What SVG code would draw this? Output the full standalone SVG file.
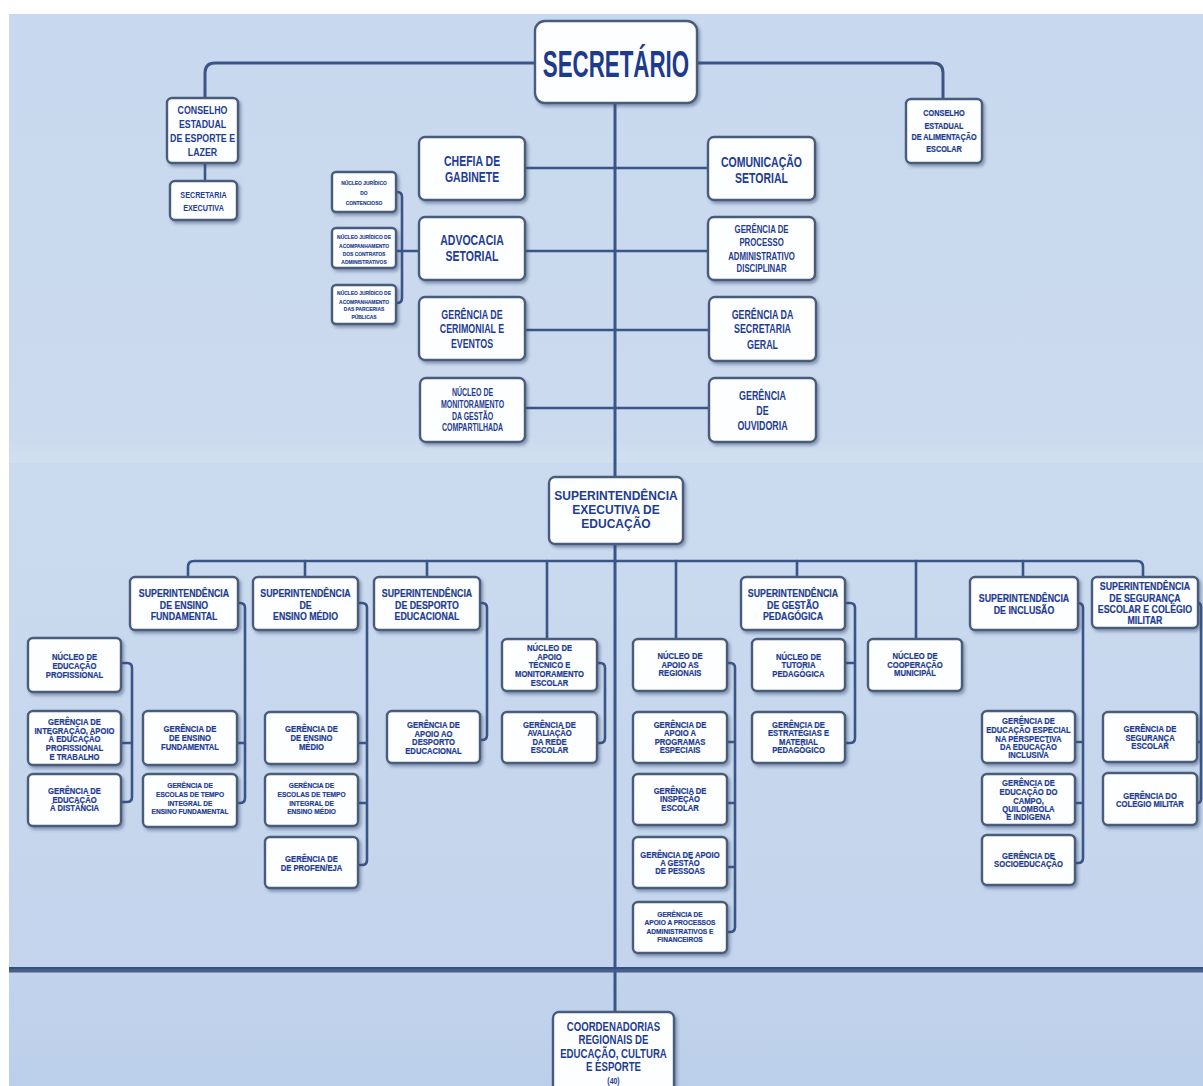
<svg xmlns="http://www.w3.org/2000/svg" width="1203" height="1086" viewBox="0 0 1203 1086">
<defs>
  <filter id="sh" x="-10%" y="-10%" width="130%" height="140%">
    <feDropShadow dx="2" dy="2.5" stdDeviation="1.6" flood-color="#34466a" flood-opacity="0.45"/>
  </filter>
  <linearGradient id="bgTop" x1="0" y1="0" x2="0" y2="1">
    <stop offset="0" stop-color="#c8d8ee"/>
    <stop offset="0.94" stop-color="#cbdaee"/>
    <stop offset="1" stop-color="#d2dff1"/>
  </linearGradient>
  <linearGradient id="bgMid" x1="0" y1="0" x2="0" y2="1">
    <stop offset="0" stop-color="#cbdbef"/>
    <stop offset="1" stop-color="#c3d4ec"/>
  </linearGradient>
  <linearGradient id="bgBot" x1="0" y1="0" x2="0" y2="1">
    <stop offset="0" stop-color="#c2d4ec"/>
    <stop offset="1" stop-color="#bccfea"/>
  </linearGradient>
</defs>
<style>
  .box{fill:#fdfeff;stroke:#4a5c7c;stroke-width:2.4;filter:url(#sh)}
  .ln{fill:none;stroke:#3a5688;stroke-width:2.6;stroke-linecap:round;stroke-linejoin:round}
  text{font-family:"Liberation Sans",Arial,sans-serif;font-weight:bold;fill:#1d3c92;text-anchor:middle;transform-box:fill-box;transform-origin:center}
  .big{font-size:36px;transform:scaleX(.62);fill:#1d3a8c}
  .l{font-size:15px;transform:scaleX(.7)}
  .m{font-size:12.5px;transform:scaleX(.71)}
  .m2{font-size:11.5px;transform:scaleX(.68)}
  .s10{font-size:10px;transform:scaleX(.7)}
  .cons{font-size:11px;transform:scaleX(.8)}
  .cons2{font-size:8.5px;transform:scaleX(.86);stroke:#1d3c92;stroke-width:.2px}
  .sx{font-size:9.5px;transform:scaleX(.76)}
  .nj{font-size:5.8px;transform:scaleX(.85);stroke:#1d3c92;stroke-width:.15px}
  .sx2{font-size:12.5px;transform:scaleX(.96)}
  .sup{font-size:10px;transform:scaleX(.88);stroke:#1d3c92;stroke-width:.2px}
  .g{font-size:8.5px;transform:scaleX(.9);stroke:#1d3c92;stroke-width:.2px}
  .gs{font-size:7.5px;transform:scaleX(.88);stroke:#1d3c92;stroke-width:.2px}
  .co{font-size:12.5px;transform:scaleX(.77)}
</style>

<!-- backdrop panels -->
<rect x="0" y="0" width="1203" height="1086" fill="#ffffff"/>
<rect x="9" y="14" width="1194" height="449" fill="url(#bgTop)"/>
<rect x="9" y="463" width="1194" height="505" fill="url(#bgMid)"/>
<rect x="9" y="968" width="1194" height="118" fill="url(#bgBot)"/>

<!-- connectors -->
<g id="connectors">
  <path class="ln" style="stroke-width:3" d="M205,98 V73 Q205,63 215,63 H933 Q943,63 943,73 V99"/>
  <path class="ln" d="M205,163 V181"/>
  <path class="ln" style="stroke-width:3" d="M615,103 V477"/>
  <path class="ln" d="M525,168 H708 M525,251 H708 M525,330 H709 M525,408 H709"/>
  <path class="ln" d="M396,192 H397 Q402,192 402,197 V298 Q402,303 397,303 H396 M396,251 H419"/>

  <path class="ln" style="stroke-width:3" d="M615,544 V1012"/>
  <path class="ln" d="M188,577 V567 Q188,561 194,561 H1137 Q1143,561 1143,567 V577"/>
  <path class="ln" d="M305,561 V577 M427,561 V577 M547,561 V639 M676,561 V639 M797,561 V577 M916,561 V639 M1023,561 V577"/>

  <path class="ln" d="M238,603 H240 Q245,603 245,608 V798 Q245,803 240,803 H237 M237,743 H245"/>
  <path class="ln" d="M121,663 H127 Q132,663 132,668 V797 Q132,802 127,802 H121 M121,743 H132"/>
  <path class="ln" d="M358,603 H362 Q367,603 367,608 V860 Q367,865 362,865 H358 M358,743 H367 M358,803 H367"/>
  <path class="ln" d="M480,603 H482 Q487,603 487,608 V735 Q487,740 482,740 H480"/>
  <path class="ln" d="M597,663 H600 Q605,663 605,668 V738 Q605,743 600,743 H597"/>
  <path class="ln" d="M727,663 H730 Q735,663 735,668 V927 Q735,932 730,932 H727 M727,742 H735 M727,803 H735 M727,867 H735"/>
  <path class="ln" d="M845,603 H850 Q855,603 855,608 V738 Q855,743 850,743 H845 M845,663 H855"/>
  <path class="ln" d="M1078,603 Q1083,603 1083,608 V858 Q1083,863 1078,863 H1075 M1075,742 H1083 M1075,803 H1083"/>
  <path class="ln" d="M1198,603 Q1201,603 1201,607 V799 Q1201,803 1197,803 M1197,742 H1201"/>

  <!-- regional divider -->
  <path d="M9,970 H1203" stroke="#4a5f86" stroke-width="5" fill="none"/>
  <path d="M9,968 H1203" stroke="#2f4f86" stroke-width="2" fill="none"/>
</g>

<!-- top level -->
<g id="secretario">
  <rect class="box" x="535" y="21" width="162" height="82" rx="10"/>
  <text class="big" x="616" y="77">SECRETÁRIO</text>
</g>
<g id="conselho-esporte">
  <rect class="box" x="167" y="98" width="71" height="65" rx="5"/>
  <text class="cons" x="202.5"><tspan x="202.5" y="114">CONSELHO</tspan><tspan x="202.5" y="128">ESTADUAL</tspan><tspan x="202.5" y="142">DE ESPORTE E</tspan><tspan x="202.5" y="156">LAZER</tspan></text>
</g>
<g id="secretaria-executiva">
  <rect class="box" x="170" y="181" width="67" height="39" rx="5"/>
  <text class="sx" x="203.5"><tspan x="203.5" y="198">SECRETARIA</tspan><tspan x="203.5" y="211">EXECUTIVA</tspan></text>
</g>
<g id="conselho-alimentacao">
  <rect class="box" x="906" y="99" width="76" height="64" rx="5"/>
  <text class="cons2" x="944"><tspan x="944" y="116">CONSELHO</tspan><tspan x="944" y="129">ESTADUAL</tspan><tspan x="944" y="140">DE ALIMENTAÇÃO</tspan><tspan x="944" y="152">ESCOLAR</tspan></text>
</g>

<g id="chefia-gabinete">
  <rect class="box" x="419" y="137" width="106" height="63" rx="6"/>
  <text class="l" x="472"><tspan x="472" y="166.5">CHEFIA DE</tspan><tspan x="472" y="182.5">GABINETE</tspan></text>
</g>
<g id="advocacia-setorial">
  <rect class="box" x="419" y="217" width="106" height="63" rx="6"/>
  <text class="l" x="472"><tspan x="472" y="245.5">ADVOCACIA</tspan><tspan x="472" y="261.5">SETORIAL</tspan></text>
</g>
<g id="cerimonial">
  <rect class="box" x="419" y="297" width="106" height="63" rx="6"/>
  <text class="m" x="472"><tspan x="472" y="319.5">GERÊNCIA DE</tspan><tspan x="472" y="333.5">CERIMONIAL E</tspan><tspan x="472" y="348.5">EVENTOS</tspan></text>
</g>
<g id="nucleo-monitoramento">
  <rect class="box" x="420" y="378" width="105" height="64" rx="6"/>
  <text class="s10" x="472.5"><tspan x="472.5" y="396.5">NÚCLEO DE</tspan><tspan x="472.5" y="408.5">MONITORAMENTO</tspan><tspan x="472.5" y="420.5">DA GESTÃO</tspan><tspan x="472.5" y="431.5">COMPARTILHADA</tspan></text>
</g>
<g id="comunicacao-setorial">
  <rect class="box" x="708" y="137" width="107" height="63" rx="6"/>
  <text class="l" x="761.5"><tspan x="761.5" y="167.5">COMUNICAÇÃO</tspan><tspan x="761.5" y="183.5">SETORIAL</tspan></text>
</g>
<g id="processo-disciplinar">
  <rect class="box" x="708" y="217" width="107" height="63" rx="6"/>
  <text class="m2" x="761.5"><tspan x="761.5" y="233">GERÊNCIA DE</tspan><tspan x="761.5" y="246">PROCESSO</tspan><tspan x="761.5" y="260">ADMINISTRATIVO</tspan><tspan x="761.5" y="272">DISCIPLINAR</tspan></text>
</g>
<g id="secretaria-geral">
  <rect class="box" x="709" y="297" width="107" height="64" rx="6"/>
  <text class="m" x="762.5"><tspan x="762.5" y="319.5">GERÊNCIA DA</tspan><tspan x="762.5" y="333.5">SECRETARIA</tspan><tspan x="762.5" y="349.5">GERAL</tspan></text>
</g>
<g id="ouvidoria">
  <rect class="box" x="709" y="378" width="107" height="64" rx="6"/>
  <text class="m" x="762.5"><tspan x="762.5" y="400.5">GERÊNCIA</tspan><tspan x="762.5" y="415.5">DE</tspan><tspan x="762.5" y="430.5">OUVIDORIA</tspan></text>
</g>

<g id="nj-contencioso">
  <rect class="box" x="332" y="172" width="64" height="40" rx="4"/>
  <text class="nj" x="364"><tspan x="364" y="185">NÚCLEO JURÍDICO</tspan><tspan x="364" y="195">DO</tspan><tspan x="364" y="205">CONTENCIOSO</tspan></text>
</g>
<g id="nj-contratos">
  <rect class="box" x="332" y="228" width="64" height="40" rx="4"/>
  <text class="nj" x="364"><tspan x="364" y="239">NÚCLEO JURÍDICO DE</tspan><tspan x="364" y="248">ACOMPANHAMENTO</tspan><tspan x="364" y="256">DOS  CONTRATOS</tspan><tspan x="364" y="264">ADMINISTRATIVOS</tspan></text>
</g>
<g id="nj-parcerias">
  <rect class="box" x="332" y="285" width="64" height="39" rx="4"/>
  <text class="nj" x="364"><tspan x="364" y="295">NÚCLEO  JURÍDICO DE</tspan><tspan x="364" y="304">ACOMPANHAMENTO</tspan><tspan x="364" y="311">DAS PARCERIAS</tspan><tspan x="364" y="319">PÚBLICAS</tspan></text>
</g>

<!-- education superintendency -->
<g id="sup-executiva">
  <rect class="box" x="549" y="477" width="134" height="67" rx="6"/>
  <text class="sx2" x="616"><tspan x="616" y="500.5">SUPERINTENDÊNCIA</tspan><tspan x="616" y="514.5">EXECUTIVA DE</tspan><tspan x="616" y="528.5">EDUCAÇÃO</tspan></text>
</g>
<g id="sup-fundamental">
  <rect class="box" x="130" y="577" width="108" height="53" rx="5"/>
  <text class="sup" x="184"><tspan x="184" y="597.5">SUPERINTENDÊNCIA</tspan><tspan x="184" y="609.5">DE ENSINO</tspan><tspan x="184" y="620.5">FUNDAMENTAL</tspan></text>
</g>
<g id="sup-medio">
  <rect class="box" x="253" y="577" width="105" height="53" rx="5"/>
  <text class="sup" x="305.5"><tspan x="305.5" y="597.5">SUPERINTENDÊNCIA</tspan><tspan x="305.5" y="609.5">DE</tspan><tspan x="305.5" y="620.5">ENSINO MÉDIO</tspan></text>
</g>
<g id="sup-desporto">
  <rect class="box" x="374" y="577" width="106" height="53" rx="5"/>
  <text class="sup" x="427"><tspan x="427" y="597.5">SUPERINTENDÊNCIA</tspan><tspan x="427" y="609.5">DE DESPORTO</tspan><tspan x="427" y="620.5">EDUCACIONAL</tspan></text>
</g>
<g id="sup-gestao">
  <rect class="box" x="741" y="577" width="104" height="53" rx="5"/>
  <text class="sup" x="793"><tspan x="793" y="597.5">SUPERINTENDÊNCIA</tspan><tspan x="793" y="609.5">DE GESTÃO</tspan><tspan x="793" y="620.5">PEDAGÓGICA</tspan></text>
</g>
<g id="sup-inclusao">
  <rect class="box" x="970" y="577" width="108" height="53" rx="5"/>
  <text class="sup" x="1024"><tspan x="1024" y="602.5">SUPERINTENDÊNCIA</tspan><tspan x="1024" y="614.5">DE INCLUSÃO</tspan></text>
</g>
<g id="sup-seguranca">
  <rect class="box" x="1092" y="577" width="106" height="51" rx="5"/>
  <text class="sup" x="1145"><tspan x="1145" y="590.5">SUPERINTENDÊNCIA</tspan><tspan x="1145" y="602.5">DE SEGURANÇA</tspan><tspan x="1145" y="613.5">ESCOLAR E COLÉGIO</tspan><tspan x="1145" y="624.5">MILITAR</tspan></text>
</g>

<!-- professional education -->
<g id="nucleo-ed-profissional">
  <rect class="box" x="28" y="638" width="93" height="54" rx="5"/>
  <text class="g" x="74.5"><tspan x="74.5" y="660">NÚCLEO DE</tspan><tspan x="74.5" y="669">EDUCAÇÃO</tspan><tspan x="74.5" y="678">PROFISSIONAL</tspan></text>
</g>
<g id="ger-integracao">
  <rect class="box" x="28" y="711" width="93" height="54" rx="5"/>
  <text class="g" x="74.5"><tspan x="74.5" y="725">GERÊNCIA DE</tspan><tspan x="74.5" y="734">INTEGRAÇÃO, APOIO</tspan><tspan x="74.5" y="742">À EDUCAÇÃO</tspan><tspan x="74.5" y="751">PROFISSIONAL</tspan><tspan x="74.5" y="760">E TRABALHO</tspan></text>
</g>
<g id="ger-distancia">
  <rect class="box" x="28" y="774" width="93" height="52" rx="5"/>
  <text class="g" x="74.5"><tspan x="74.5" y="794">GERÊNCIA DE</tspan><tspan x="74.5" y="803">EDUCAÇÃO</tspan><tspan x="74.5" y="811">À DISTÂNCIA</tspan></text>
</g>

<!-- fundamental -->
<g id="ger-fundamental">
  <rect class="box" x="143" y="711" width="94" height="54" rx="5"/>
  <text class="g" x="190"><tspan x="190" y="732">GERÊNCIA DE</tspan><tspan x="190" y="741">DE ENSINO</tspan><tspan x="190" y="750">FUNDAMENTAL</tspan></text>
</g>
<g id="ger-integral-fundamental">
  <rect class="box" x="143" y="774" width="94" height="53" rx="5"/>
  <text class="gs" x="190"><tspan x="190" y="788.5">GERÊNCIA DE</tspan><tspan x="190" y="797.5">ESCOLAS DE TEMPO</tspan><tspan x="190" y="806.5">INTEGRAL DE</tspan><tspan x="190" y="814.5">ENSINO FUNDAMENTAL</tspan></text>
</g>

<!-- medio -->
<g id="ger-medio">
  <rect class="box" x="265" y="712" width="93" height="52" rx="5"/>
  <text class="g" x="311.5"><tspan x="311.5" y="732">GERÊNCIA DE</tspan><tspan x="311.5" y="741">DE ENSINO</tspan><tspan x="311.5" y="750">MÉDIO</tspan></text>
</g>
<g id="ger-integral-medio">
  <rect class="box" x="265" y="774" width="93" height="52" rx="5"/>
  <text class="gs" x="311.5"><tspan x="311.5" y="788.5">GERÊNCIA DE</tspan><tspan x="311.5" y="797.5">ESCOLAS DE TEMPO</tspan><tspan x="311.5" y="806.5">INTEGRAL DE</tspan><tspan x="311.5" y="814.5">ENSINO MÉDIO</tspan></text>
</g>
<g id="ger-profen">
  <rect class="box" x="265" y="837" width="93" height="51" rx="5"/>
  <text class="g" x="311.5"><tspan x="311.5" y="862">GERÊNCIA DE</tspan><tspan x="311.5" y="871">DE PROFEN/EJA</tspan></text>
</g>

<!-- desporto -->
<g id="ger-desporto">
  <rect class="box" x="387" y="711" width="93" height="52" rx="5"/>
  <text class="g" x="433.5"><tspan x="433.5" y="728">GERÊNCIA DE</tspan><tspan x="433.5" y="737">APOIO AO</tspan><tspan x="433.5" y="745">DESPORTO</tspan><tspan x="433.5" y="754">EDUCACIONAL</tspan></text>
</g>

<!-- monitoring -->
<g id="nucleo-apoio-tecnico">
  <rect class="box" x="502" y="639" width="95" height="52" rx="5"/>
  <text class="g" x="549.5"><tspan x="549.5" y="651">NÚCLEO DE</tspan><tspan x="549.5" y="660">APOIO</tspan><tspan x="549.5" y="668">TÉCNICO E</tspan><tspan x="549.5" y="677">MONITORAMENTO</tspan><tspan x="549.5" y="686">ESCOLAR</tspan></text>
</g>
<g id="ger-avaliacao">
  <rect class="box" x="502" y="712" width="95" height="51" rx="5"/>
  <text class="g" x="549.5"><tspan x="549.5" y="728">GERÊNCIA DE</tspan><tspan x="549.5" y="736">AVALIAÇÃO</tspan><tspan x="549.5" y="745">DA REDE</tspan><tspan x="549.5" y="753">ESCOLAR</tspan></text>
</g>

<!-- regionais -->
<g id="nucleo-regionais">
  <rect class="box" x="633" y="639" width="94" height="52" rx="5"/>
  <text class="g" x="680"><tspan x="680" y="659">NÚCLEO DE</tspan><tspan x="680" y="668">APOIO AS</tspan><tspan x="680" y="676">REGIONAIS</tspan></text>
</g>
<g id="ger-programas">
  <rect class="box" x="633" y="712" width="94" height="51" rx="5"/>
  <text class="g" x="680"><tspan x="680" y="728">GERÊNCIA DE</tspan><tspan x="680" y="736">APOIO A</tspan><tspan x="680" y="745">PROGRAMAS</tspan><tspan x="680" y="753">ESPECIAIS</tspan></text>
</g>
<g id="ger-inspecao">
  <rect class="box" x="633" y="774" width="94" height="51" rx="5"/>
  <text class="g" x="680"><tspan x="680" y="794">GERÊNCIA DE</tspan><tspan x="680" y="802">INSPEÇÃO</tspan><tspan x="680" y="811">ESCOLAR</tspan></text>
</g>
<g id="ger-pessoas">
  <rect class="box" x="633" y="837" width="94" height="51" rx="5"/>
  <text class="g" x="680"><tspan x="680" y="858">GERÊNCIA DE APOIO</tspan><tspan x="680" y="866">A GESTÃO</tspan><tspan x="680" y="874">DE PESSOAS</tspan></text>
</g>
<g id="ger-processos">
  <rect class="box" x="633" y="902" width="94" height="51" rx="5"/>
  <text class="gs" x="680"><tspan x="680" y="917">GERÊNCIA DE</tspan><tspan x="680" y="925.5">APOIO A PROCESSOS</tspan><tspan x="680" y="934">ADMINISTRATIVOS E</tspan><tspan x="680" y="942">FINANCEIROS</tspan></text>
</g>

<!-- pedagogica -->
<g id="nucleo-tutoria">
  <rect class="box" x="752" y="639" width="93" height="52" rx="5"/>
  <text class="g" x="798.5"><tspan x="798.5" y="660">NÚCLEO DE</tspan><tspan x="798.5" y="668">TUTORIA</tspan><tspan x="798.5" y="677">PEDAGÓGICA</tspan></text>
</g>
<g id="ger-estrategias">
  <rect class="box" x="752" y="712" width="93" height="51" rx="5"/>
  <text class="g" x="798.5"><tspan x="798.5" y="728">GERÊNCIA DE</tspan><tspan x="798.5" y="736">ESTRATÉGIAS E</tspan><tspan x="798.5" y="745">MATERIAL</tspan><tspan x="798.5" y="753">PEDAGÓGICO</tspan></text>
</g>
<g id="nucleo-cooperacao">
  <rect class="box" x="868" y="639" width="94" height="52" rx="5"/>
  <text class="g" x="915"><tspan x="915" y="659">NÚCLEO DE</tspan><tspan x="915" y="668">COOPERAÇÃO</tspan><tspan x="915" y="676">MUNICIPAL</tspan></text>
</g>

<!-- inclusao -->
<g id="ger-especial">
  <rect class="box" x="982" y="711" width="93" height="52" rx="5"/>
  <text class="g" x="1028.5"><tspan x="1028.5" y="724">GERÊNCIA DE</tspan><tspan x="1028.5" y="733">EDUCAÇÃO ESPECIAL</tspan><tspan x="1028.5" y="742">NA PERSPECTIVA</tspan><tspan x="1028.5" y="750">DA EDUCAÇÃO</tspan><tspan x="1028.5" y="758">INCLUSIVA</tspan></text>
</g>
<g id="ger-campo">
  <rect class="box" x="982" y="774" width="93" height="51" rx="5"/>
  <text class="g" x="1028.5"><tspan x="1028.5" y="786">GERÊNCIA DE</tspan><tspan x="1028.5" y="795">EDUCAÇÃO DO</tspan><tspan x="1028.5" y="804">CAMPO,</tspan><tspan x="1028.5" y="812">QUILOMBOLA</tspan><tspan x="1028.5" y="820">E INDÍGENA</tspan></text>
</g>
<g id="ger-socioeducacao">
  <rect class="box" x="982" y="835" width="93" height="50" rx="5"/>
  <text class="g" x="1028.5"><tspan x="1028.5" y="859">GERÊNCIA DE</tspan><tspan x="1028.5" y="867">SOCIOEDUCAÇÃO</tspan></text>
</g>

<!-- seguranca -->
<g id="ger-seguranca">
  <rect class="box" x="1103" y="712" width="94" height="50" rx="5"/>
  <text class="g" x="1150"><tspan x="1150" y="732">GERÊNCIA DE</tspan><tspan x="1150" y="741">SEGURANÇA</tspan><tspan x="1150" y="749">ESCOLAR</tspan></text>
</g>
<g id="ger-colegio-militar">
  <rect class="box" x="1103" y="773" width="94" height="52" rx="5"/>
  <text class="g" x="1150"><tspan x="1150" y="799">GERÊNCIA DO</tspan><tspan x="1150" y="807">COLÉGIO MILITAR</tspan></text>
</g>

<!-- regional offices -->
<g id="coordenadorias">
  <rect class="box" x="553" y="1012" width="121" height="84" rx="6"/>
  <text class="co" x="613.5"><tspan x="613.5" y="1031">COORDENADORIAS</tspan><tspan x="613.5" y="1044">REGIONAIS DE</tspan><tspan x="613.5" y="1058">EDUCAÇÃO, CULTURA</tspan><tspan x="613.5" y="1071">E ESPORTE</tspan><tspan x="613.5" y="1084" style="font-size:9px">(40)</tspan></text>
</g>
</svg>
